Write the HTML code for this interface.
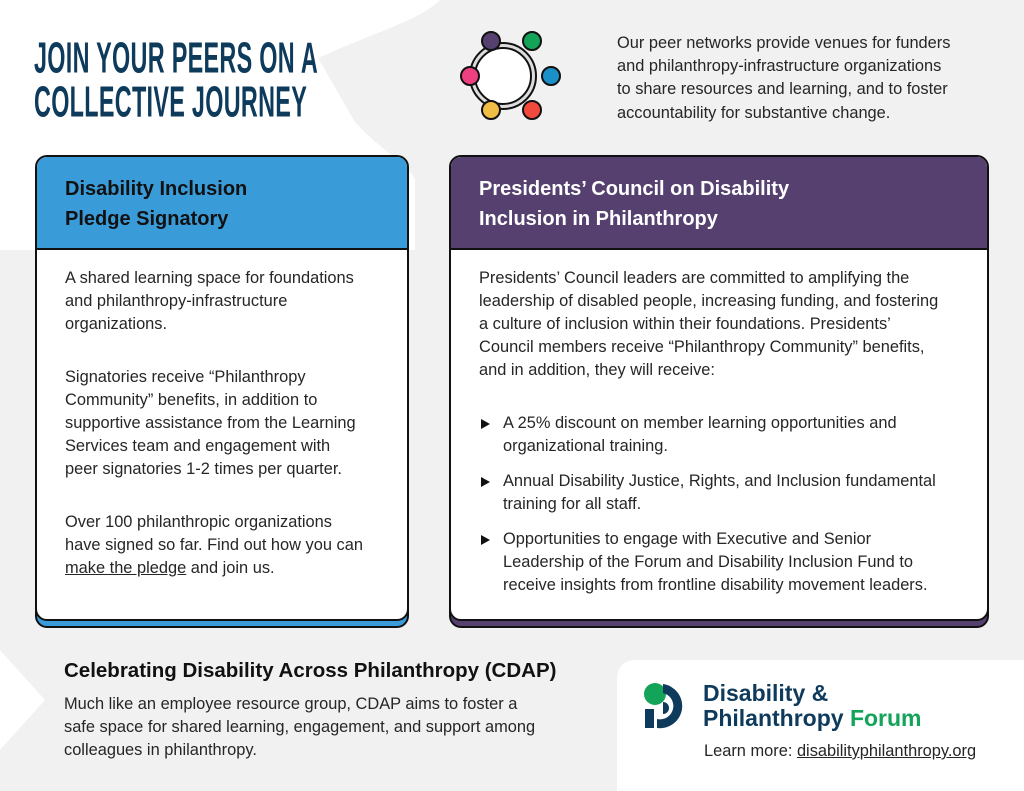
<!DOCTYPE html>
<html><head><meta charset="utf-8"><style>
*{margin:0;padding:0;box-sizing:border-box}
body{width:1024px;height:791px;overflow:hidden;background:#f1f1f1;position:relative;font-family:"Liberation Sans",sans-serif;color:#222}
.a{position:absolute;white-space:nowrap}
.t{font-size:16.4px;line-height:23px;color:#262626}
.h{font-weight:bold;color:#0e3a5c;font-size:40px;line-height:40px;transform:scale(0.585,1.1);transform-origin:0 0;letter-spacing:0.5px}
.card{position:absolute;border:2px solid #111;border-radius:12px;background:#fff;overflow:hidden}
.sh{position:absolute;border:2px solid #111;border-radius:12px}
.hd{position:absolute;left:0;right:0;top:0;border-bottom:2px solid #111}
.ht{font-size:20px;font-weight:bold;line-height:30px}
.tri{position:absolute;width:0;height:0;border-top:5px solid transparent;border-bottom:5px solid transparent;border-left:9px solid #111}
</style></head><body>
<svg class="a" style="left:0;top:0" width="1024" height="791">
<path d="M0 0 H440 C420 20 380 30 318 58 L355 122 C380 150 410 165 415 180 L415 250 L0 250 Z" fill="#fff"/>
<path d="M0 650 L45 700 L0 750 Z" fill="#fff"/>
<path d="M617 680 Q617 660 637 660 H1024 V791 H617 Z" fill="#fff"/>
<g stroke="#111" stroke-width="2">
<circle cx="503" cy="76" r="33" fill="#ddd"/>
<circle cx="503" cy="76" r="28" fill="#fff"/>
<circle cx="491" cy="41" r="9" fill="#55406f"/>
<circle cx="532" cy="41" r="9" fill="#13a45a"/>
<circle cx="551" cy="76" r="9" fill="#1b8fc7"/>
<circle cx="532" cy="110" r="9" fill="#f14a3c"/>
<circle cx="491" cy="110" r="9" fill="#f0bd45"/>
<circle cx="470" cy="76" r="9" fill="#ee3f80"/>
</g>
</svg>
<div class="a h" style="left:34px;top:36px">JOIN YOUR PEERS ON A</div>
<div class="a h" style="left:34px;top:80px">COLLECTIVE JOURNEY</div>
<div class="a t" style="left:617px;top:32px;line-height:23.2px">Our peer networks provide venues for funders<br>and philanthropy-infrastructure organizations<br>to share resources and learning, and to foster<br>accountability for substantive change.</div>

<div class="sh" style="left:35px;top:162px;width:374px;height:466px;background:#3a9bd9"></div>
<div class="card" style="left:35px;top:155px;width:374px;height:466px">
<div class="hd" style="height:93px;background:#3a9bd9"></div>
<div class="a ht" style="left:28px;top:17px;color:#111">Disability Inclusion<br>Pledge Signatory</div>
<div class="a t" style="left:28px;top:110px">A shared learning space for foundations<br>and philanthropy-infrastructure<br>organizations.</div>
<div class="a t" style="left:28px;top:209px">Signatories receive “Philanthropy<br>Community” benefits, in addition to<br>supportive assistance from the Learning<br>Services team and engagement with<br>peer signatories 1-2 times per quarter.</div>
<div class="a t" style="left:28px;top:354px">Over 100 philanthropic organizations<br>have signed so far. Find out how you can<br><span style="text-decoration:underline">make the pledge</span> and join us.</div>
</div>

<div class="sh" style="left:449px;top:162px;width:540px;height:466px;background:#55406f"></div>
<div class="card" style="left:449px;top:155px;width:540px;height:466px">
<div class="hd" style="height:93px;background:#55406f"></div>
<div class="a ht" style="left:28px;top:17px;color:#fff">Presidents’ Council on Disability<br>Inclusion in Philanthropy</div>
<div class="a t" style="left:28px;top:110px">Presidents’ Council leaders are committed to amplifying the<br>leadership of disabled people, increasing funding, and fostering<br>a culture of inclusion within their foundations. Presidents’<br>Council members receive “Philanthropy Community” benefits,<br>and in addition, they will receive:</div>
<div class="tri" style="left:30px;top:262px"></div>
<div class="a t" style="left:52px;top:255px">A 25% discount on member learning opportunities and<br>organizational training.</div>
<div class="tri" style="left:30px;top:320px"></div>
<div class="a t" style="left:52px;top:313px">Annual Disability Justice, Rights, and Inclusion fundamental<br>training for all staff.</div>
<div class="tri" style="left:30px;top:378px"></div>
<div class="a t" style="left:52px;top:371px">Opportunities to engage with Executive and Senior<br>Leadership of the Forum and Disability Inclusion Fund to<br>receive insights from frontline disability movement leaders.</div>
</div>

<div class="a" style="left:64px;top:659px;font-size:20.5px;font-weight:bold;color:#111">Celebrating Disability Across Philanthropy (CDAP)</div>
<div class="a t" style="left:64px;top:693px;line-height:23px">Much like an employee resource group, CDAP aims to foster a<br>safe space for shared learning, engagement, and support among<br>colleagues in philanthropy.</div>

<svg class="a" style="left:643px;top:682px" width="48" height="48">
<circle cx="12" cy="12" r="11" fill="#13a45a"/>
<rect x="2" y="27" width="9" height="19" fill="#0e3a5c"/>
<path d="M20 2 A22 22 0 1 1 14 46 L14 37 A13 13 0 1 0 20 11 Z" fill="#0e3a5c"/>
<path d="M20 20 A6 6 0 0 1 20 32 Z" fill="#0e3a5c"/>
</svg>
<div class="a" style="left:703px;top:681px;font-size:23px;font-weight:bold;color:#0e3a5c;line-height:25px">Disability &amp;<br>Philanthropy <span style="color:#13a45a">Forum</span></div>
<div class="a t" style="left:704px;top:740px">Learn more: <span style="text-decoration:underline">disabilityphilanthropy.org</span></div>
</body></html>
